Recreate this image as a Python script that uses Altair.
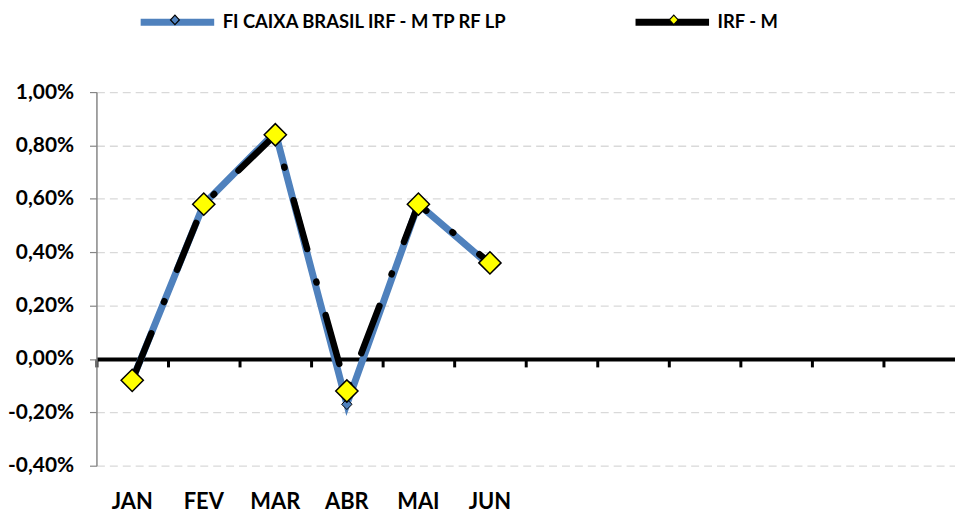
import altair as alt
import pandas as pd

# ---- data ----
months = ["JAN", "FEV", "MAR", "ABR", "MAI", "JUN", "JUL", "AGO", "SET", "OUT", "NOV", "DEZ"]
labeled_months = ["JAN", "FEV", "MAR", "ABR", "MAI", "JUN"]
series_names = ["FI CAIXA BRASIL IRF - M TP RF LP", "IRF - M"]
marker_keys = ["fundo", "indice"]
fund_values = [-0.08, 0.58, 0.85, -0.17, 0.58, 0.35]
irfm_values = [-0.08, 0.58, 0.84, -0.12, 0.58, 0.36]
y_ticks = [-0.4, -0.2, 0.0, 0.2, 0.4, 0.6, 0.8, 1.0]

BLUE = "#4F81BD"
YELLOW = "#FFFF00"
FONT = "Lato"


def series_frame(name, key, values):
    return pd.DataFrame({"month": labeled_months, "series": name, "marker": key,
                         "value": values, "idx": list(range(len(values)))})


fund_df = series_frame(series_names[0], marker_keys[0], fund_values)
irfm_df = series_frame(series_names[1], marker_keys[1], irfm_values)

x_scale = alt.Scale(type="band", domain=months, paddingInner=0, paddingOuter=0)
y_scale = alt.Scale(domain=[-0.4, 1.0], nice=False, zero=False)

label_list = "[" + ",".join("'" + m + "'" for m in labeled_months) + "]"
x_label_axis = alt.Axis(orient="bottom", domain=False, ticks=False, grid=False,
                        labelPadding=26, labelFont=FONT, labelFontSize=22,
                        labelFontWeight="bold", labelColor="black", labelAngle=0,
                        title=None,
                        labelExpr="indexof(" + label_list + ", datum.value) >= 0 ? datum.value : ''")
x_tick_axis = alt.Axis(orient="bottom", offset=-107.43, domain=True, domainColor="black",
                       domainWidth=4, ticks=True, tickColor="black", tickWidth=3,
                       tickSize=8, bandPosition=0, labels=False, grid=False, title=None)

y_axis = alt.Axis(values=y_ticks, title=None,
                  labelExpr="(datum.value < 0 ? '-' : '') + replace(format(abs(datum.value), '.2f'), '.', ',') + '%'",
                  domainColor="#868686", domainWidth=1.5, tickColor="#868686",
                  tickSize=7, tickWidth=1.2, labelPadding=16, labelFont=FONT,
                  labelFontSize=21, labelFontWeight="bold", labelColor="black",
                  gridColor="#D9D9D9", gridDash=[8, 5], gridWidth=1.3)

color_scale = alt.Scale(domain=series_names, range=[BLUE, "black"])
fill_scale = alt.Scale(domain=marker_keys, range=[BLUE, YELLOW])

line_legend = alt.Legend(orient="none", legendX=41, legendY=-111, direction="horizontal",
                         title=None, symbolType="stroke", symbolSize=5476,
                         symbolStrokeWidth=7, symbolDash=[1, 0], labelFont=FONT,
                         labelFontSize=18.5, labelFontWeight="bold", labelColor="black",
                         labelOffset=5, labelLimit=400, columnPadding=112, padding=0)
point_legend = alt.Legend(orient="none", legendX=41, legendY=-111, direction="horizontal",
                          title=None, symbolType="M-0.12,0L0,-0.13L0.12,0L0,0.13Z",
                          symbolSize=5476, symbolStrokeColor="black",
                          symbolStrokeWidth=1.2, labelExpr="''", labelOffset=5,
                          columnPadding=421, padding=0)

y_enc = alt.Y("value:Q", scale=y_scale, axis=y_axis)
y_plain = alt.Y("value:Q", scale=y_scale)

fund_line = alt.Chart(fund_df).mark_line(strokeWidth=7).encode(
    x=alt.X("month:N", scale=x_scale, axis=x_label_axis),
    y=y_enc,
    color=alt.Color("series:N", scale=color_scale, legend=line_legend),
    order=alt.Order("idx:Q"),
)
fund_pts = alt.Chart(fund_df).mark_point(shape="diamond", filled=True, size=110,
                                         stroke="black", strokeWidth=1, opacity=1).encode(
    x=alt.X("month:N", scale=x_scale, axis=None),
    y=y_plain,
    fill=alt.Fill("marker:N", scale=fill_scale, legend=point_legend),
)
irfm_line = alt.Chart(irfm_df).mark_line(strokeWidth=6.5, strokeDash=[51, 34, 1, 34],
                                         strokeCap="round").encode(
    x=alt.X("month:N", scale=x_scale, axis=x_tick_axis),
    y=y_plain,
    color=alt.Color("series:N", scale=color_scale, legend=line_legend),
    order=alt.Order("idx:Q"),
)
irfm_pts = alt.Chart(irfm_df).mark_point(shape="diamond", filled=True, size=500,
                                         stroke="black", strokeWidth=1.5, opacity=1).encode(
    x=alt.X("month:N", scale=x_scale, axis=None),
    y=y_plain,
    fill=alt.Fill("marker:N", scale=fill_scale, legend=point_legend),
)

chart = (
    alt.layer(fund_line, fund_pts, irfm_line, irfm_pts)
    .resolve_axis(x="independent")
    .properties(width=864, height=376,
                autosize=alt.AutoSizeParams(type="none"),
                padding={"left": 89, "top": 83, "right": 0, "bottom": 48})
    .configure(font=FONT)
    .configure_view(strokeWidth=0)
)

chart.save("out.html", embed_options={"renderer": "svg", "actions": False})
